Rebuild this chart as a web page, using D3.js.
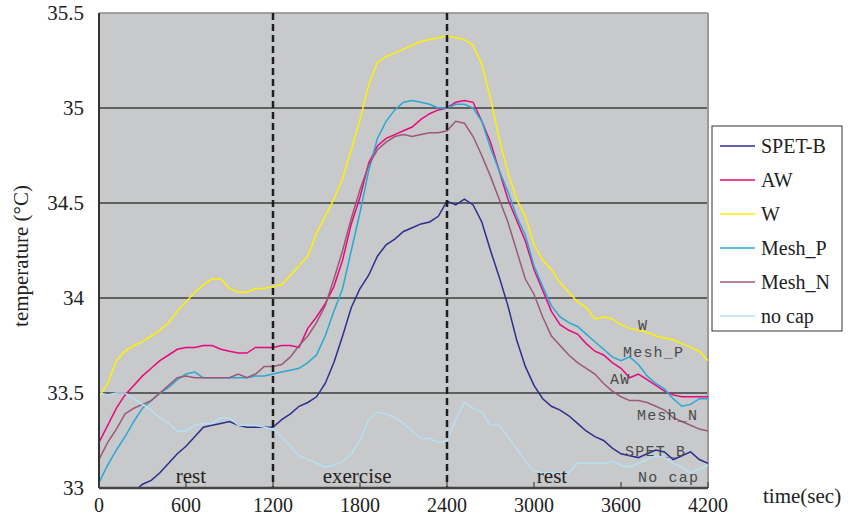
<!DOCTYPE html>
<html>
<head>
<meta charset="utf-8">
<script src="https://cdn.jsdelivr.net/npm/d3@7"></script>
<style>
  body { margin: 0; background: #fff; }
  svg { display: block; }
</style>
</head>
<body>
<div id="chart"></div>
<script>
// time axis, one sample every 60 s
var times = d3.range(0, 4201, 60);

var seriesNames = ["SPET-B", "AW", "W", "Mesh_P", "Mesh_N", "no cap"];
var seriesColors = ["#2b2f8f", "#e8097f", "#fff200", "#2aa8d4", "#9c5878", "#b5e2f3"];

var spetB = [32.85, 32.87, 32.9, 32.94, 32.98, 33.02, 33.04, 33.08, 33.13, 33.18, 33.22, 33.27, 33.32, 33.33, 33.34, 33.35,
  33.33, 33.32, 33.32, 33.32, 33.32, 33.36, 33.39, 33.43, 33.45, 33.48, 33.55, 33.66, 33.8, 33.95, 34.05, 34.12,
  34.22, 34.28, 34.31, 34.35, 34.37, 34.39, 34.4, 34.43, 34.51, 34.49, 34.52, 34.49, 34.4, 34.25, 34.11, 33.96,
  33.78, 33.64, 33.54, 33.47, 33.43, 33.41, 33.38, 33.34, 33.3, 33.27, 33.25, 33.21, 33.18, 33.17, 33.16, 33.18,
  33.2, 33.19, 33.15, 33.17, 33.19, 33.15, 33.13];
var aw = [33.24, 33.33, 33.42, 33.49, 33.54, 33.59, 33.63, 33.67, 33.7, 33.73, 33.74, 33.74, 33.75, 33.75, 33.73, 33.72,
  33.71, 33.71, 33.74, 33.74, 33.74, 33.75, 33.75, 33.74, 33.84, 33.9, 33.97, 34.06, 34.2, 34.39, 34.53, 34.71,
  34.8, 34.84, 34.86, 34.88, 34.9, 34.94, 34.97, 34.99, 35.0, 35.03, 35.04, 35.03, 34.93, 34.82, 34.67, 34.52,
  34.41, 34.3, 34.15, 34.04, 33.93, 33.86, 33.83, 33.81, 33.76, 33.72, 33.7, 33.66, 33.63, 33.58, 33.6, 33.57,
  33.54, 33.51, 33.49, 33.48, 33.48, 33.48, 33.48];
var w = [33.48, 33.55, 33.67, 33.72, 33.75, 33.77, 33.8, 33.83, 33.87, 33.93, 33.98, 34.03, 34.07, 34.1, 34.1, 34.05,
  34.03, 34.03, 34.05, 34.05, 34.06, 34.07, 34.12, 34.17, 34.22, 34.34, 34.43, 34.52, 34.63, 34.78, 34.94, 35.12,
  35.24, 35.27, 35.29, 35.31, 35.33, 35.35, 35.36, 35.37, 35.38, 35.37, 35.36, 35.33, 35.23, 35.05, 34.84, 34.66,
  34.52, 34.43, 34.28, 34.2, 34.15, 34.08, 34.03, 33.98, 33.95, 33.89, 33.9, 33.89, 33.86, 33.84, 33.83, 33.82,
  33.8, 33.79, 33.78, 33.76, 33.74, 33.72, 33.67];
var meshP = [33.03, 33.12, 33.2, 33.27, 33.35, 33.42, 33.46, 33.5, 33.53, 33.57, 33.6, 33.61, 33.58, 33.58, 33.58, 33.58,
  33.58, 33.58, 33.59, 33.59, 33.6, 33.61, 33.62, 33.63, 33.66, 33.7, 33.8, 33.93, 34.05, 34.25, 34.45, 34.67,
  34.84, 34.93, 34.99, 35.03, 35.04, 35.03, 35.02, 35.0, 35.0, 35.02, 35.02, 35.0, 34.93, 34.79, 34.67, 34.56,
  34.43, 34.33, 34.17, 34.06, 33.96, 33.9, 33.87, 33.85, 33.81, 33.77, 33.73, 33.69, 33.67, 33.69, 33.65, 33.59,
  33.55, 33.52, 33.47, 33.43, 33.44, 33.47, 33.47];
var meshN = [33.15, 33.24, 33.31, 33.39, 33.42, 33.44, 33.46, 33.5, 33.54, 33.58, 33.59, 33.58, 33.58, 33.58, 33.58, 33.58,
  33.6, 33.58, 33.6, 33.64, 33.64, 33.65, 33.69, 33.75, 33.8, 33.87, 33.96, 34.1, 34.25, 34.42, 34.57, 34.7,
  34.78, 34.82, 34.85, 34.86, 34.85, 34.86, 34.87, 34.87, 34.88, 34.93, 34.92, 34.85, 34.75, 34.64, 34.52, 34.4,
  34.25, 34.1, 34.02, 33.9, 33.8, 33.75, 33.7, 33.66, 33.63, 33.6, 33.55, 33.51, 33.48, 33.46, 33.46, 33.45,
  33.43, 33.41, 33.37, 33.35, 33.33, 33.31, 33.3];
var noCap = [33.5, 33.49, 33.5, 33.5, 33.47, 33.44, 33.41, 33.37, 33.34, 33.3, 33.3, 33.33, 33.34, 33.34, 33.37, 33.37,
  33.33, 33.33, 33.33, 33.32, 33.31, 33.27, 33.22, 33.17, 33.15, 33.13, 33.11, 33.12, 33.14, 33.18, 33.25, 33.36,
  33.4, 33.39, 33.37, 33.34, 33.3, 33.26, 33.26, 33.24, 33.25, 33.36, 33.45, 33.42, 33.4, 33.33, 33.33, 33.27,
  33.21, 33.14, 33.09, 33.08, 33.08, 33.08, 33.08, 33.13, 33.13, 33.13, 33.13, 33.14, 33.12, 33.11, 33.13, 33.15,
  33.17, 33.16, 33.13, 33.11, 33.08, 33.1, 33.12];

var seriesValues = [spetB, aw, w, meshP, meshN, noCap];

var xTicks = [0, 600, 1200, 1800, 2400, 3000, 3600, 4200];
var yTicks = [33, 33.5, 34, 34.5, 35, 35.5];
var phaseMarks = [1200, 2400];
var phaseLabels = ["rest", "exercise", "rest"];
var phaseCenters = [634, 1780, 3124];

// in-plot end labels (text, time, temperature at baseline)
var endLabels = ["W", "Mesh_P", "AW", "Mesh_N", "SPET_B", "No cap"];
var endLabelT = [3717, 3614, 3524, 3710, 3628, 3717];
var endLabelV = [33.83, 33.69, 33.55, 33.36, 33.17, 33.03];

var width = 860, height = 520;
var margin = {left: 99, top: 13, right: 152, bottom: 32};

var x = d3.scaleLinear().domain([0, 4200]).range([margin.left, width - margin.right]);
var y = d3.scaleLinear().domain([33, 35.5]).range([height - margin.bottom, margin.top]);

var svg = d3.select("#chart").append("svg")
    .attr("width", width)
    .attr("height", height);

var serif = "'Liberation Serif', 'Times New Roman', serif";

svg.append("defs").append("clipPath").attr("id", "plotClip")
  .append("rect")
    .attr("x", x(0)).attr("y", y(35.5))
    .attr("width", x(4200) - x(0)).attr("height", y(33) - y(35.5));

// plot background
svg.append("rect")
    .attr("x", x(0)).attr("y", y(35.5))
    .attr("width", x(4200) - x(0)).attr("height", y(33) - y(35.5))
    .attr("fill", "#c8c9cb");

// horizontal grid lines
svg.selectAll(".grid")
  .data(yTicks.filter(function (d) { return d > 33 && d < 35.5; }))
  .enter().append("line")
    .attr("x1", x(0)).attr("x2", x(4200))
    .attr("y1", function (d) { return y(d); })
    .attr("y2", function (d) { return y(d); })
    .attr("stroke", "#3c3c3c")
    .attr("stroke-width", 1.4);

// frame
svg.append("line").attr("x1", x(0)).attr("x2", x(4200)).attr("y1", y(35.5)).attr("y2", y(35.5))
    .attr("stroke", "#8a8a8a").attr("stroke-width", 1.5);
svg.append("line").attr("x1", x(4200)).attr("x2", x(4200)).attr("y1", y(35.5)).attr("y2", y(33))
    .attr("stroke", "#9a9a9a").attr("stroke-width", 2);

// series
var line = d3.line()
    .x(function (d, i) { return x(times[i]); })
    .y(function (d) { return y(d); });

svg.append("g").attr("clip-path", "url(#plotClip)")
  .selectAll("path")
  .data(seriesValues)
  .enter().append("path")
    .attr("d", line)
    .attr("fill", "none")
    .attr("stroke", function (d, i) { return seriesColors[i]; })
    .attr("stroke-width", 1.5)
    .attr("stroke-linejoin", "miter");

// phase separators
svg.selectAll(".phase")
  .data(phaseMarks)
  .enter().append("line")
    .attr("x1", function (d) { return x(d); })
    .attr("x2", function (d) { return x(d); })
    .attr("y1", y(35.5)).attr("y2", y(33))
    .attr("stroke", "#1e1e1e")
    .attr("stroke-width", 2.5)
    .attr("stroke-dasharray", "7,4");

// axes lines + inward ticks
svg.append("line").attr("x1", x(0)).attr("x2", x(0)).attr("y1", y(35.5)).attr("y2", y(33))
    .attr("stroke", "#333").attr("stroke-width", 2);
svg.append("line").attr("x1", x(0)).attr("x2", x(4200)).attr("y1", y(33)).attr("y2", y(33))
    .attr("stroke", "#444").attr("stroke-width", 2.5);
svg.selectAll(".xtick")
  .data(xTicks)
  .enter().append("line")
    .attr("x1", function (d) { return x(d); })
    .attr("x2", function (d) { return x(d); })
    .attr("y1", y(33)).attr("y2", y(33) - 6)
    .attr("stroke", "#444").attr("stroke-width", 1.2);

// tick labels
svg.selectAll(".ylab")
  .data(yTicks)
  .enter().append("text")
    .attr("x", 84)
    .attr("y", function (d) { return y(d); })
    .attr("dy", "0.35em")
    .attr("text-anchor", "end")
    .attr("font-family", serif)
    .attr("font-size", 21)
    .attr("fill", "#222")
    .text(function (d) { return d; });

svg.selectAll(".xlab")
  .data(xTicks)
  .enter().append("text")
    .attr("x", function (d) { return x(d); })
    .attr("y", 512)
    .attr("text-anchor", "middle")
    .attr("font-family", serif)
    .attr("font-size", 20)
    .attr("fill", "#222")
    .text(function (d) { return d; });

svg.append("text")
    .attr("x", 763).attr("y", 503)
    .attr("font-family", serif).attr("font-size", 21).attr("fill", "#222")
    .text("time(sec)");

svg.append("text")
    .attr("transform", "translate(28,256) rotate(-90)")
    .attr("text-anchor", "middle")
    .attr("font-family", serif).attr("font-size", 21).attr("fill", "#222")
    .text("temperature (\u00B0C)");

// phase labels
svg.selectAll(".phaseLab")
  .data(phaseLabels)
  .enter().append("text")
    .attr("x", function (d, i) { return x(phaseCenters[i]); })
    .attr("y", 483)
    .attr("text-anchor", "middle")
    .attr("font-family", serif)
    .attr("font-size", 21)
    .attr("fill", "#222")
    .text(function (d) { return d; });

// end-of-line labels
svg.selectAll(".endLab")
  .data(endLabels)
  .enter().append("text")
    .attr("x", function (d, i) { return x(endLabelT[i]); })
    .attr("y", function (d, i) { return y(endLabelV[i]); })
    .attr("font-family", "'Liberation Mono', 'Courier New', monospace")
    .attr("font-size", 15)
    .attr("letter-spacing", 1.2)
    .attr("fill", "#4a4a4a")
    .text(function (d) { return d; });

// legend
var legend = svg.append("g").attr("transform", "translate(712,126)");
legend.append("rect")
    .attr("width", 130).attr("height", 205)
    .attr("fill", "#fff").attr("stroke", "#333").attr("stroke-width", 1);
var items = legend.selectAll(".item")
  .data(seriesNames)
  .enter().append("g")
    .attr("transform", function (d, i) { return "translate(0," + (20 + i * 34) + ")"; });
items.append("line")
    .attr("x1", 8).attr("x2", 43)
    .attr("stroke", function (d, i) { return seriesColors[i]; })
    .attr("stroke-width", 1.5);
items.append("text")
    .attr("x", 49).attr("dy", "0.35em")
    .attr("font-family", serif).attr("font-size", 20).attr("fill", "#222")
    .text(function (d) { return d; });
</script>
</body>
</html>
